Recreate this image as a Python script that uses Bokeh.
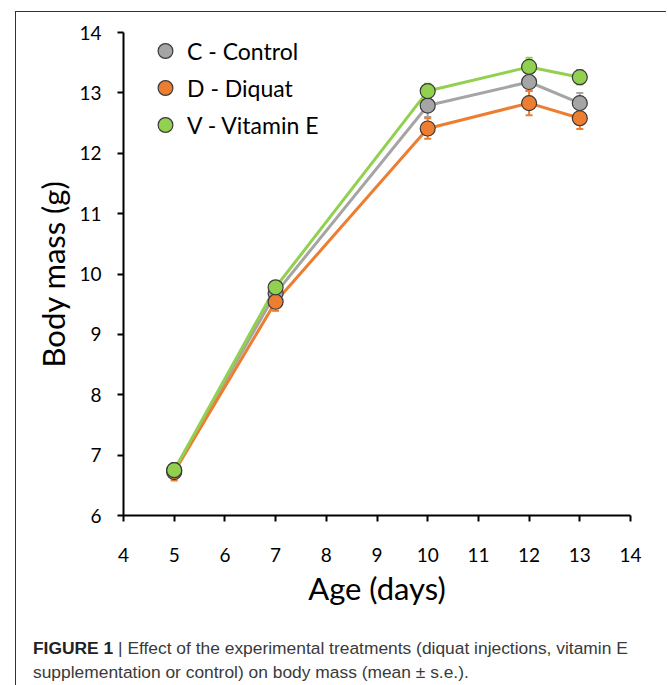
from bokeh.plotting import figure
from bokeh.models import (Range1d, Legend, LegendItem, ColumnDataSource, Whisker,
                          TeeHead, FixedTicker, Div)
from bokeh.layouts import column
from bokeh.embed import file_html
from bokeh.resources import INLINE

age = [5, 7, 10, 12, 13]
control = [6.75, 9.68, 12.79, 13.18, 12.83]
control_se = [0.08, 0.10, 0.19, 0.15, 0.17]
diquat = [6.72, 9.54, 12.41, 12.83, 12.58]
diquat_se = [0.14, 0.15, 0.17, 0.20, 0.18]
vitamin_e = [6.75, 9.78, 13.03, 13.43, 13.26]
vitamin_e_se = [0.08, 0.10, 0.12, 0.15, 0.12]

series = [
    ("C - Control", control, control_se, "#A5A5A5"),
    ("D - Diquat", diquat, diquat_se, "#ED7D31"),
    ("V - Vitamin E", vitamin_e, vitamin_e_se, "#92D050"),
]

x_ticks = list(range(4, 15))
y_ticks = list(range(6, 15))

caption_bold = "FIGURE 1"
caption_line1 = "| Effect of the experimental treatments (diquat injections, vitamin E"
caption_line2 = "supplementation or control) on body mass (mean \u00b1 s.e.)."

FONT = "Lato"

p = figure(width=643, height=619, output_backend="svg", toolbar_location=None,
           x_range=Range1d(4, 14), y_range=Range1d(6, 14),
           min_border_left=107, min_border_right=29, min_border_top=20,
           min_border_bottom=116)
p.outline_line_color = None
p.grid.visible = False

for ax in (p.xaxis[0], p.yaxis[0]):
    ax.axis_line_width = 2
    ax.axis_line_color = "black"
    ax.major_tick_line_width = 2
    ax.major_tick_line_color = "black"
    ax.major_tick_in = 0
    ax.major_tick_out = 6
    ax.minor_tick_line_color = None
    ax.major_label_text_font = FONT
    ax.major_label_text_font_size = "19px"
    ax.major_label_text_color = "black"
    ax.axis_label_text_font = FONT
    ax.axis_label_text_font_size = "31px"
    ax.axis_label_text_font_style = "normal"
    ax.axis_label_text_color = "black"

p.xaxis.ticker = FixedTicker(ticks=x_ticks)
p.yaxis.ticker = FixedTicker(ticks=y_ticks)
p.xaxis.axis_label = "Age (days)"
p.yaxis.axis_label = "Body mass (g)"
p.xaxis.major_label_standoff = 26
p.yaxis.major_label_standoff = 16
p.xaxis.axis_label_standoff = 4
p.yaxis.axis_label_standoff = 4

items = []
for name, vals, se, color in series:
    src = ColumnDataSource(dict(x=age, y=vals,
                                lo=[v - s for v, s in zip(vals, se)],
                                hi=[v + s for v, s in zip(vals, se)]))
    w = Whisker(source=src, base="x", lower="lo", upper="hi",
                line_color=color, line_width=2,
                upper_head=TeeHead(size=7, line_color=color, line_width=2),
                lower_head=TeeHead(size=7, line_color=color, line_width=2))
    p.add_layout(w)
    p.line("x", "y", source=src, line_color=color, line_width=3)
for name, vals, se, color in series:
    src = ColumnDataSource(dict(x=age, y=vals))
    r = p.scatter("x", "y", source=src, size=15, fill_color=color,
                  line_color="#3a3a3a", line_width=1.2)
    items.append(LegendItem(label=name, renderers=[r]))

legend = Legend(items=items, location=(22, 372), border_line_color=None,
                background_fill_alpha=0, label_text_font=FONT,
                label_text_font_size="23px", label_text_color="black",
                glyph_width=40, glyph_height=37, spacing=0, padding=0, margin=0,
                label_standoff=2)
p.add_layout(legend, "center")

line_style = "white-space:nowrap;height:24px;line-height:24px;"
cap = Div(text=(f"<div style='{line_style}'><b style='color:#222'>{caption_bold}</b> "
                f"<span>{caption_line1}</span></div>"
                f"<div style='{line_style}'>{caption_line2}</div>"),
          width=640, height=50,
          styles={"font-family": "'Liberation Sans', Arial, sans-serif",
                  "font-size": "17.4px", "color": "#3a3a3a",
                  "padding-left": "12px"})

layout = column(p, cap, margin=(11, 0, 0, 15),
                styles={"border-left": "1.5px solid #333333",
                        "border-top": "1.5px solid #333333"})

open("out.html", "w").write(file_html(layout, INLINE))
